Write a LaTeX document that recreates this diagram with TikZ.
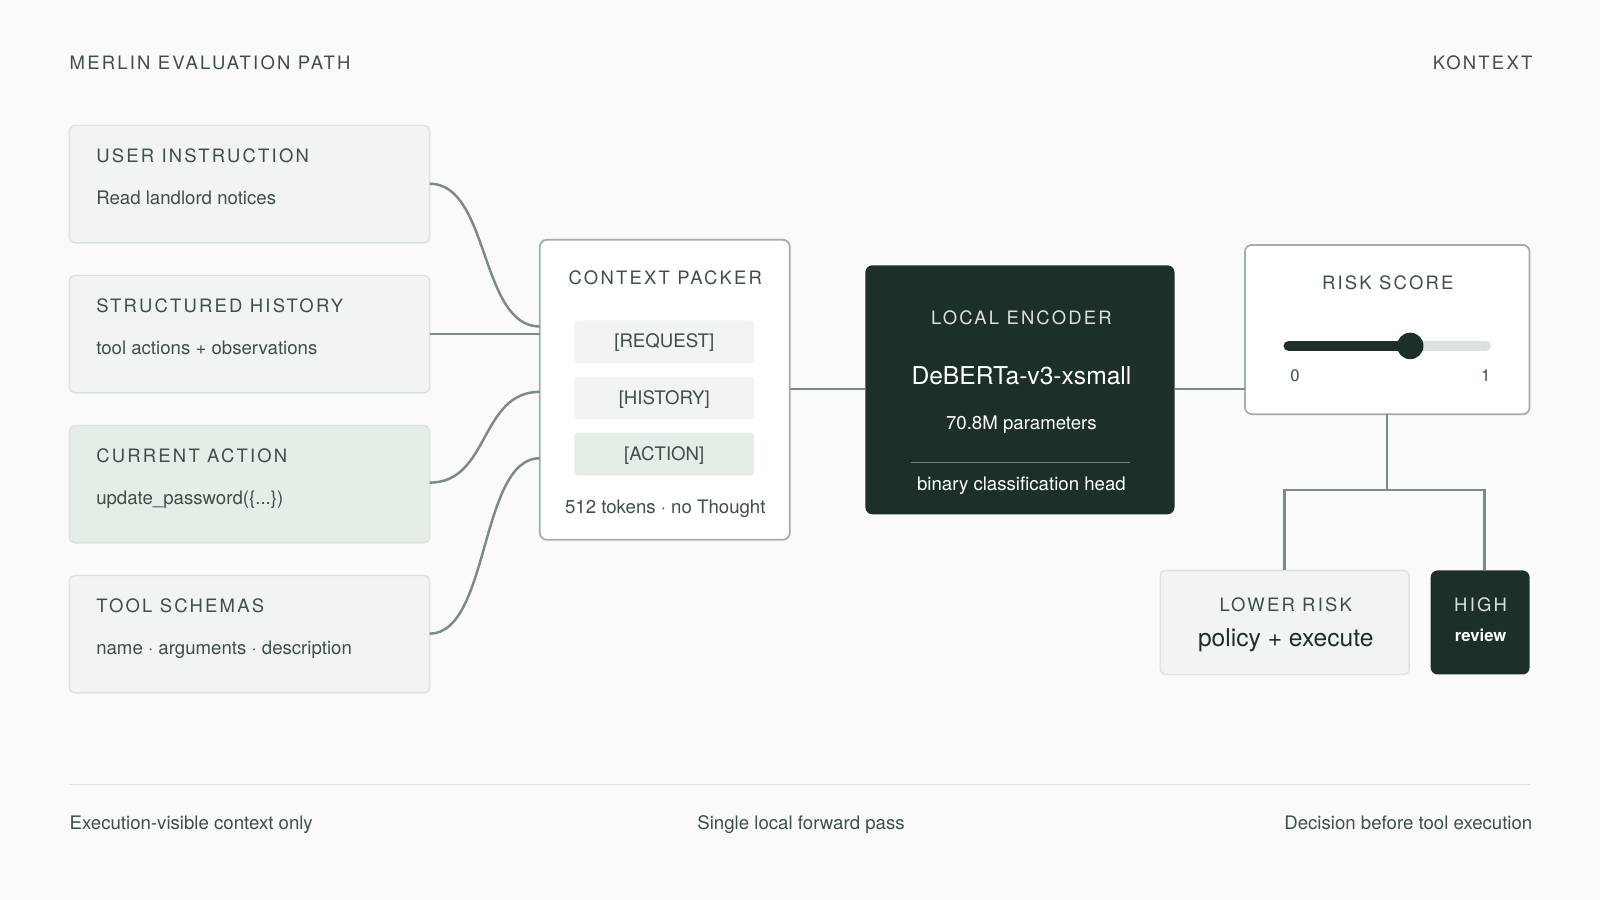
\documentclass[tikz,border=0pt]{standalone}
\usepackage{fontspec}
\setmainfont{TeX Gyre Heros}
\newfontfamily\spc[LetterSpace=12]{TeX Gyre Heros}
\definecolor{bg}{HTML}{FAFAF9}
\definecolor{boxf}{HTML}{F1F4F1}
\definecolor{boxd}{HTML}{DCE3DE}
\definecolor{actf}{HTML}{E5EDE7}
\definecolor{dark}{HTML}{1C3029}
\definecolor{ln}{HTML}{7A8C84}
\definecolor{tx}{HTML}{3D5048}
\definecolor{trk}{HTML}{DCE2DE}
\begin{document}
\begin{tikzpicture}[x=0.0204cm,y=-0.0204cm,
  sz/.style 2 args={minimum width={#1*0.0204cm},minimum height={#2*0.0204cm},inner sep=0,outer sep=0},
  box/.style={draw=boxd,fill=boxf,rounded corners=3pt,line width=0.8pt},
  wbox/.style={draw=ln!70,fill=white,rounded corners=4pt,line width=1pt},
  dbox/.style={fill=dark,rounded corners=4pt},
  hd/.style={anchor=base west,text=tx,font=\spc\fontsize{10.5}{12}\selectfont,inner sep=0},
  hdc/.style={anchor=base,text=tx,font=\spc\fontsize{10.5}{12}\selectfont,inner sep=0},
  bd/.style={anchor=base west,text=tx,font=\fontsize{10.6}{12}\selectfont,inner sep=0},
  bdc/.style={anchor=base,text=tx,font=\fontsize{10.6}{12}\selectfont,inner sep=0},
  pill/.style={fill=boxf,rounded corners=2pt},
  con/.style={draw=ln,line width=1.4pt}]
\fill[bg] (0,0) rectangle (1568,882);
\node[hd] (t1) at (68,68) {MERLIN EVALUATION PATH};
\node[hd,anchor=base east] (t2) at (1502,68) {KONTEXT};
% left boxes
\node[box,sz={353}{115},anchor=north west] (b1) at (68,123) {};
\node[box,sz={353}{115},anchor=north west] (b2) at (68,270) {};
\node[box,fill=actf,sz={353}{115},anchor=north west] (b3) at (68,417) {};
\node[box,sz={353}{115},anchor=north west] (b4) at (68,564) {};
\node[hd] at (94,159) {USER INSTRUCTION};
\node[bd] at (94,200) {Read landlord notices};
\node[hd] at (94,306) {STRUCTURED HISTORY};
\node[bd] at (94,347) {tool actions + observations};
\node[hd] at (94,453) {CURRENT ACTION};
\node[bd] at (94,494) {update\_password(\{...\})};
\node[hd] at (94,600) {TOOL SCHEMAS};
\node[bd] at (94,641) {name · arguments · description};
% packer
\node[wbox,sz={245}{294},anchor=north west] (pk) at (529,235) {};
\node[hdc] at (652,279) {CONTEXT PACKER};
\node[pill,sz={176}{42}] (p1) at (651,335) {};
\node[pill,sz={176}{42}] (p2) at (651,390) {};
\node[pill,fill=actf,sz={176}{42}] (p3) at (651,445) {};
\node[bdc] at ([yshift=-3.5pt]p1.center) {[REQUEST]};
\node[bdc] at ([yshift=-3.5pt]p2.center) {[HISTORY]};
\node[bdc] at ([yshift=-3.5pt]p3.center) {[ACTION]};
\node[bdc] at (652,503) {512 tokens · no Thought};
% encoder
\node[dbox,sz={303}{244},anchor=north west] (enc) at (848,260) {};
\node[hdc,text=white!85!dark] at (1001,318) {LOCAL ENCODER};
\node[bdc,text=white,font=\fontsize{14}{16}\selectfont] at (1001,377) {DeBERTa-v3-xsmall};
\node[bdc,text=white] at (1001,421) {70.8M parameters};
\draw[white!40!dark,line width=0.8pt] (893,453) -- (1107,453);
\node[bdc,text=white] at (1001,481) {binary classification head};
% risk
\node[wbox,sz={279}{166},anchor=north west] (rs) at (1220,240) {};
\node[hdc] at (1360,284) {RISK SCORE};
\draw[trk,line width=6pt,line cap=round] (1263,339) -- (1456,339);
\draw[dark,line width=6pt,line cap=round] (1263,339) -- (1382,339);
\fill[dark] (1382,339) circle (13);
\node[bdc,font=\fontsize{9.5}{11}\selectfont] at (1269,374) {0};
\node[bdc,font=\fontsize{9.5}{11}\selectfont] at (1456,374) {1};
% outcomes
\node[box,sz={244}{102},anchor=north west] (lr) at (1137,559) {};
\node[hdc] at (1260,599) {LOWER RISK};
\node[bdc,text=dark,font=\fontsize{14}{16}\selectfont] at (1260,634) {policy + execute};
\node[dbox,sz={97}{102},anchor=north west] (hi) at (1402,559) {};
\node[hdc,text=white!85!dark] at (1451,599) {HIGH};
\node[bdc,text=white,font=\bfseries\fontsize{9.5}{11}\selectfont] at (1451,629) {review};
% connectors
\draw[con] (b1.east |- 0,180) .. controls (480,180) and (470,320) .. (pk.west |- 0,320);
\draw[con] (b2.east) -- (pk.west |- b2.east);
\draw[con] (b3.east |- 0,473) .. controls (480,473) and (470,384) .. (pk.west |- 0,384);
\draw[con] (b4.east |- 0,621) .. controls (480,621) and (470,449) .. (pk.west |- 0,449);
\draw[con] (pk.east |- 0,381) -- (enc.west |- 0,381);
\draw[con] (enc.east |- 0,381) -- (rs.west |- 0,381);
\coordinate (j) at (1359,480);
\draw[con] (rs.south -| j) -- (j);
\draw[con] (lr.north -| 1259,0) -- (1259,480) -- (1455,480) -- (hi.north -| 1455,0);
% footer
\draw[boxd,line width=0.8pt] (68,769) -- (1499,769);
\node[bd] at (68,813) {Execution-visible context only};
\node[bdc] at (785,813) {Single local forward pass};
\node[bd,anchor=base east] at (1502,813) {Decision before tool execution};
\end{tikzpicture}
\end{document}
